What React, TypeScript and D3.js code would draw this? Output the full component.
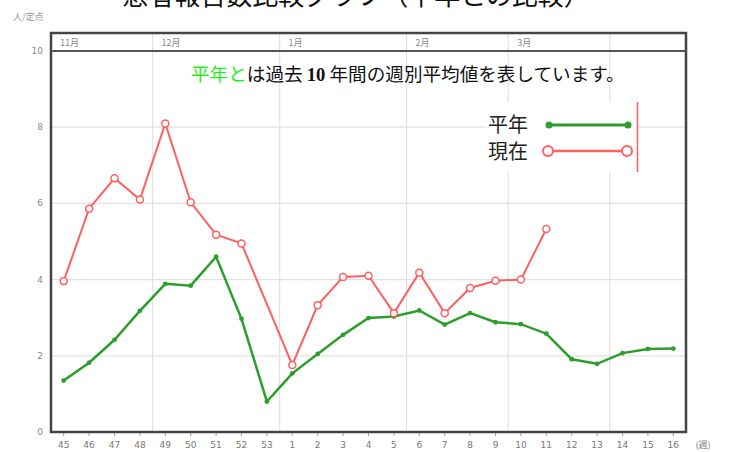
import * as d3 from 'd3';

// weeks on the x axis (week 45 of last year .. week 16)
const weeks = ['45', '46', '47', '48', '49', '50', '51', '52', '53', '1', '2', '3', '4', '5', '6', '7', '8', '9', '10', '11', '12', '13', '14', '15', '16'];

// 平年 (10-year average)
const heinen = [1.35, 1.82, 2.42, 3.18, 3.89, 3.84, 4.6, 2.97, 0.8, 1.54, 2.05, 2.55, 2.99, 3.03, 3.19, 2.82, 3.12, 2.88, 2.83, 2.58, 1.91, 1.79, 2.07, 2.18, 2.19];

// 現在 (this season) - no report for week 53
const genzai = [3.96, 5.86, 6.66, 6.1, 8.1, 6.03, 5.18, 4.95, null, 1.76, 3.33, 4.07, 4.1, 3.12, 4.18, 3.12, 3.78, 3.97, 4.0, 5.33];

const monthLabels = ['11月', '12月', '1月', '2月', '3月', ''];
const monthStarts = ['45', '49', '1', '6', '10', '14'];

const yTicks = [0, 2, 4, 6, 8, 10];

const GREEN = '#2c9e2c';
const RED = '#ff5f5f';
const CJK = '"Noto Sans CJK JP", "Noto Sans", sans-serif';

export default function App() {
  const width = 729;
  const height = 452;
  const left = 51, right = 686, top = 33, bottom = 432;

  const x = d3.scaleBand<string>().domain(weeks).range([left, right]);
  const y = d3.scaleLinear().domain([0, 10]).range([bottom, 51]);
  const cx = (w: string) => (x(w) ?? 0) + x.bandwidth() / 2;

  const greenPts = heinen.map((v, i) => ({ w: weeks[i], v }));
  const redPts = genzai
    .map((v, i) => ({ w: weeks[i], v }))
    .filter(d => d.v !== null) as { w: string; v: number }[];

  const line = d3.line<{ w: string; v: number }>()
    .x(d => cx(d.w))
    .y(d => y(d.v));

  const legendLine = d3.line<number[]>();

  return (
    <svg width={width} height={height} style={{ position: 'absolute', left: 0, top: 0, background: '#fff' }}>
      {/* title (cut off at the top) */}
      <text x={356} y={5} textAnchor="middle" fontSize={26} fontFamily={CJK} fill="#111">
        患者報告数比較グラフ（平年との比較）
      </text>
      <text x={13} y={20} fontSize={9} fontFamily={CJK} fill="#999">人/定点</text>

      {/* horizontal grid */}
      {yTicks.filter(t => t > 0 && t < 10).map(t => (
        <line key={t} x1={left} x2={right} y1={y(t)} y2={y(t)} stroke="#e2e2e2" strokeWidth={1.2} />
      ))}
      {/* month boundaries */}
      {monthStarts.slice(1).map(m => (
        <line key={m} x1={x(m)} x2={x(m)} y1={top} y2={bottom} stroke="#e2e2e2" strokeWidth={1.2} />
      ))}
      {monthLabels.map((m, i) => (
        <text key={i} x={(x(monthStarts[i]) ?? 0) + 9} y={46} fontSize={9} fontFamily={CJK} fill="#888">{m}</text>
      ))}

      {/* series */}
      <path d={line(greenPts) || ''} fill="none" stroke={GREEN} strokeWidth={2.5} />
      {greenPts.map(d => (
        <circle key={'g' + d.w} cx={cx(d.w)} cy={y(d.v)} r={2.4} fill={GREEN} />
      ))}
      <path d={line(redPts) || ''} fill="none" stroke={RED} strokeWidth={2} />
      {redPts.map(d => (
        <circle key={'r' + d.w} cx={cx(d.w)} cy={y(d.v)} r={3.5} fill="#fff" stroke={RED} strokeWidth={1.5} />
      ))}

      {/* frame */}
      <rect x={left} y={top} width={right - left} height={bottom - top} fill="none" stroke="#444" strokeWidth={2.5} />
      <line x1={left} x2={right} y1={y(10)} y2={y(10)} stroke="#555" strokeWidth={2} />

      {/* y axis labels */}
      {yTicks.map(t => (
        <text key={t} x={43} y={y(t) + 3} textAnchor="end" fontSize={9} fontFamily="DejaVu Sans" fill="#888">{t}</text>
      ))}

      {/* x axis ticks + labels */}
      {weeks.map(w => (
        <g key={w}>
          <line x1={cx(w)} x2={cx(w)} y1={bottom + 1} y2={bottom + 4} stroke="#999" />
          <text x={cx(w)} y={448} textAnchor="middle" fontSize={9} fontFamily="DejaVu Sans" fill="#777">{w}</text>
        </g>
      ))}
      <text x={703} y={448} textAnchor="middle" fontSize={9} fontFamily={CJK} fill="#777">(週)</text>

      {/* note */}
      <text x={191} y={81} fontSize={18.6} fontFamily={CJK} fill="#111">
        <tspan fill="#22ee22">平年と</tspan>
        <tspan>は過去 </tspan>
        <tspan fontFamily="Liberation Serif" fontWeight="bold">10</tspan>
        <tspan> 年間の週別平均値を表しています。</tspan>
      </text>

      {/* legend */}
      <rect x={487} y={102} width={150} height={70} fill="#fff" />
      <line x1={637.5} x2={637.5} y1={102} y2={172} stroke={RED} strokeWidth={1.5} />
      <text x={488} y={132} fontSize={20} fontFamily={CJK} fill="#222">平年</text>
      <text x={488} y={159} fontSize={20} fontFamily={CJK} fill="#222">現在</text>
      <path d={legendLine([[549, 125], [628, 125]]) || ''} stroke={GREEN} strokeWidth={3} />
      <circle cx={549} cy={125} r={3.5} fill={GREEN} />
      <circle cx={628} cy={125} r={3.5} fill={GREEN} />
      <path d={legendLine([[548, 151], [627, 151]]) || ''} stroke={RED} strokeWidth={2.5} />
      <circle cx={548} cy={151} r={5} fill="#fff" stroke={RED} strokeWidth={2} />
      <circle cx={627} cy={151} r={5} fill="#fff" stroke={RED} strokeWidth={2} />
    </svg>
  );
}
